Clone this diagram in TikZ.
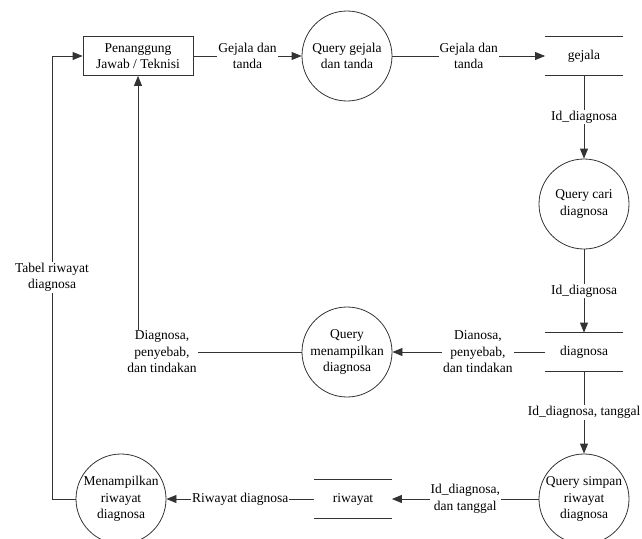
\documentclass[tikz,border=0pt]{standalone}
\usepackage{fontspec}
\setmainfont{Liberation Serif}
\usetikzlibrary{arrows.meta}

\begin{document}
\begin{tikzpicture}[x=1pt,y=-1pt,
  font=\rmfamily\fontsize{13.5}{16.5}\selectfont,line width=0.8pt,draw=black!80,
  >={Triangle[length=10pt,width=8pt]},
  proc/.style={draw,circle,minimum size=90pt,inner sep=0pt,align=center},
  ent/.style={draw,minimum width=110pt,minimum height=39pt,align=center},
  store/.style={minimum width=77pt,minimum height=38pt},
  lbl/.style={fill=white,align=center,inner sep=1pt}]
  \useasboundingbox (0,0) rectangle (642,538);
  \clip (0,0) rectangle (642,538);

  \node[ent] (pj) at (138,56) {Penanggung\\Jawab / Teknisi};
  \node[proc] (qgejala) at (347,56) {Query gejala\\dan tanda};
  \node[store] (gejala) at (584,56) {gejala};
  \node[proc] (qcari) at (584,204) {Query cari\\diagnosa};
  \node[store] (diag) at (584,352) {diagnosa};
  \node[proc] (qtampil) at (347,352) {Query\\menampilkan\\diagnosa};
  \node[proc] (qsimpan) at (584,499) {Query simpan\\riwayat\\diagnosa};
  \node[store] (riwayat) at (353,499) {riwayat};
  \node[proc] (mriwayat) at (121,499) {Menampilkan\\riwayat\\diagnosa};
  \coordinate (c1) at (52,499);
  \coordinate (c2) at (52,56);

  % data stores
  \foreach \s in {gejala,diag,riwayat}
    \draw (\s.north west) -- (\s.north east) (\s.south west) -- (\s.south east);

  \draw[->] (pj) -- node[lbl]{Gejala dan\\tanda} (qgejala);
  \draw[->] (qgejala) -- node[lbl]{Gejala dan\\tanda} (gejala.west);
  \draw[->] (gejala.south) -- node[lbl]{Id\_diagnosa} (qcari);
  \draw[->] (qcari) -- node[lbl]{Id\_diagnosa} (diag.north);
  \draw[->] (diag.west) -- node[lbl,pos=0.44]{Dianosa,\\penyebab,\\dan tindakan} (qtampil);
  \draw[->] (qtampil) -| node[lbl,pos=0.5,xshift=24pt]{Diagnosa,\\penyebab,\\dan tindakan} (pj.south);
  \draw[->] (diag.south) -- node[lbl]{Id\_diagnosa, tanggal} (qsimpan);
  \draw[->] (qsimpan) -- node[lbl]{Id\_diagnosa,\\dan tanggal} (riwayat.east);
  \draw[->] (riwayat.west) -- node[lbl]{Riwayat diagnosa} (mriwayat);
  \draw[->] (mriwayat) -- (c1) -- node[lbl]{Tabel riwayat\\diagnosa} (c2) -- (pj);
\end{tikzpicture}
\end{document}
